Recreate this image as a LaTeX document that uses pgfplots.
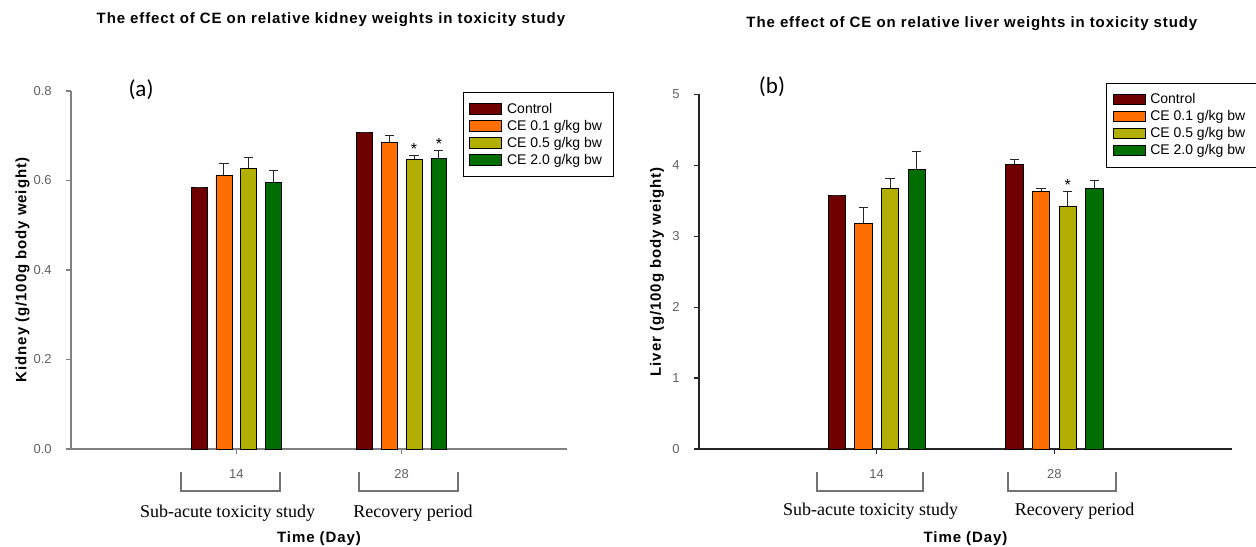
\documentclass[border=0pt]{standalone}
\usepackage{fontspec}
\setmainfont{Liberation Sans}
\newfontfamily\seriffont{Liberation Serif}
\newfontfamily\calfont{Carlito}
\usepackage{pgfplots}
\pgfplotsset{compat=1.18}
\definecolor{cCtrl}{RGB}{110,0,0}
\definecolor{cOne}{RGB}{255,110,0}
\definecolor{cFive}{RGB}{178,175,0}
\definecolor{cTwo}{RGB}{0,110,0}
\newcommand\labfont{\fontsize{7.5}{9}\selectfont\bfseries\addfontfeature{LetterSpace=6}}
\newcommand\legfont{\fontsize{7}{8}\selectfont}
\newcommand\tickfont{\fontsize{6.5}{7.5}\selectfont}
\pgfplotsset{
  barbase/.style={ybar, bar width=1.35, bar shift=0pt, draw=black, line width=0.35pt,
    legend image code/.code={\draw[##1, draw=black, line width=0.4pt] (0pt,-2.6pt) rectangle (16pt,2.6pt);},
    error bars/y dir=plus, error bars/y explicit,
    error bars/error bar style={line width=0.5pt, draw=black!85},
    error bars/error mark options={rotate=90, line width=0.5pt, mark size=2.3pt, draw=black!85}},
  common/.style={scale only axis, anchor=south west, xmin=0, xmax=42, ymin=0,
    axis x line*=bottom, axis y line*=left, clip=false,
    tick align=outside, major tick length=2.5pt, xtick={14,28},
    /pgf/number format/assume math mode=true,
    tick label style={font=\tickfont, text=black!62, inner sep=0pt},
    yticklabel style={anchor=east, xshift=-7pt},
    xticklabel style={anchor=center, yshift=-10pt},
    xlabel={Time (Day)},
    every axis x label/.style={at={(axis description cs:0.5,0)}, anchor=center, yshift=-44.8pt, font=\labfont},
    legend cell align=left,
    legend style={anchor=north west, draw=black, line width=0.5pt, fill=white, font=\legfont,
      inner xsep=3pt, inner ysep=4pt, row sep=0pt,
      nodes={inner xsep=2.5pt, inner ysep=0.75pt, text height=5.5pt, text depth=1.5pt}},
  },
}
\begin{document}
\begin{tikzpicture}
\useasboundingbox (0,0) rectangle (628pt,273pt);
% ---------------- (a) kidney ----------------
\begin{axis}[common,
  at={(35.5pt,48.5pt)}, width=248pt, height=179pt, ymax=0.8,
  axis line style={draw=black!50, line width=0.6pt},
  tick style={draw=black!50, line width=0.6pt},
  ytick={0,0.2,0.4,0.6,0.8},
  yticklabel style={/pgf/number format/.cd, fixed, fixed zerofill, precision=1},
  ylabel={Kidney (g/100g body weight)},
  every axis y label/.style={at={(axis description cs:-0.0978,0.5)}, rotate=90, anchor=center, font=\labfont},
  title={The effect of CE on relative kidney weights in toxicity study},
  every axis title/.style={at={(axis description cs:0.524,1.198)}, anchor=center, font=\labfont},
  legend style={at={(axis description cs:0.790,0.997)}},
]
\addplot[barbase, fill=cCtrl] coordinates {(10.85,0.585) +- (0,0) (24.85,0.708) +- (0,0)};
\addlegendentry{Control}
\addplot[barbase, fill=cOne] coordinates {(12.95,0.612) +- (0,0.025) (26.95,0.685) +- (0,0.015)};
\addlegendentry{CE 0.1 g/kg bw}
\addplot[barbase, fill=cFive] coordinates {(15.05,0.627) +- (0,0.025) (29.05,0.648) +- (0,0.007)};
\addlegendentry{CE 0.5 g/kg bw}
\addplot[barbase, fill=cTwo] coordinates {(17.15,0.595) +- (0,0.027) (31.15,0.650) +- (0,0.016)};
\addlegendentry{CE 2.0 g/kg bw}
\addplot[forget plot, draw=none, mark=none, nodes near coords={*},
  nodes near coords style={font=\fontsize{8}{8}\selectfont, inner sep=0.5pt, anchor=south, text=black}]
  coordinates {(29.05,0.655) (31.15,0.666)};
\end{axis}
% ---------------- (b) liver ----------------
\begin{axis}[common,
  at={(349.5pt,48.5pt)}, width=266.5pt, height=177.35pt, ymax=5,
  axis line style={draw=black!85, line width=0.6pt},
  tick style={draw=black!85, line width=0.6pt},
  ytick={0,1,2,3,4,5},
  ylabel={Liver (g/100g body weight)},
  every axis y label/.style={at={(axis description cs:-0.0788,0.5)}, rotate=90, anchor=center, font=\labfont},
  title={The effect of CE on relative liver weights in toxicity study},
  every axis title/.style={at={(axis description cs:0.512,1.198)}, anchor=center, font=\labfont},
  legend style={at={(axis description cs:0.7636,1.033)}},
]
\addplot[barbase, fill=cCtrl] coordinates {(10.85,3.58) +- (0,0) (24.85,4.01) +- (0,0.07)};
\addlegendentry{Control}
\addplot[barbase, fill=cOne] coordinates {(12.95,3.18) +- (0,0.23) (26.95,3.63) +- (0,0.04)};
\addlegendentry{CE 0.1 g/kg bw}
\addplot[barbase, fill=cFive] coordinates {(15.05,3.67) +- (0,0.145) (29.05,3.42) +- (0,0.21)};
\addlegendentry{CE 0.5 g/kg bw}
\addplot[barbase, fill=cTwo] coordinates {(17.15,3.94) +- (0,0.25) (31.15,3.67) +- (0,0.11)};
\addlegendentry{CE 2.0 g/kg bw}
\addplot[forget plot, draw=none, mark=none, nodes near coords={*},
  nodes near coords style={font=\fontsize{8}{8}\selectfont, inner sep=0.5pt, anchor=south, text=black}]
  coordinates {(29.05,3.63)};
\end{axis}
% panel letters
\node[font=\calfont\fontsize{11.5}{13}\selectfont] at (70.5pt,228pt) {(a)};
\node[font=\calfont\fontsize{11.5}{13}\selectfont] at (386pt,229.5pt) {(b)};
% brackets (a)
\draw[black!55, line width=0.6pt] (90.5pt,37pt) -- (90.5pt,27.5pt) -- (140pt,27.5pt) -- (140pt,37pt);
\draw[black!55, line width=0.6pt] (179.5pt,37pt) -- (179.5pt,27.5pt) -- (229pt,27.5pt) -- (229pt,37pt);
% brackets (b)
\draw[black!55, line width=0.6pt] (408.5pt,37pt) -- (408.5pt,27.5pt) -- (461.5pt,27.5pt) -- (461.5pt,37pt);
\draw[black!55, line width=0.6pt] (504pt,37pt) -- (504pt,27.5pt) -- (558pt,27.5pt) -- (558pt,37pt);
% period labels
\node[font=\seriffont\fontsize{9}{10}\selectfont] at (113.75pt,16.65pt) {Sub-acute toxicity study};
\node[font=\seriffont\fontsize{9}{10}\selectfont] at (206.5pt,16.65pt) {Recovery period};
\node[font=\seriffont\fontsize{9}{10}\selectfont] at (435.25pt,17.2pt) {Sub-acute toxicity study};
\node[font=\seriffont\fontsize{9}{10}\selectfont] at (537.3pt,17.2pt) {Recovery period};
\end{tikzpicture}
\end{document}
